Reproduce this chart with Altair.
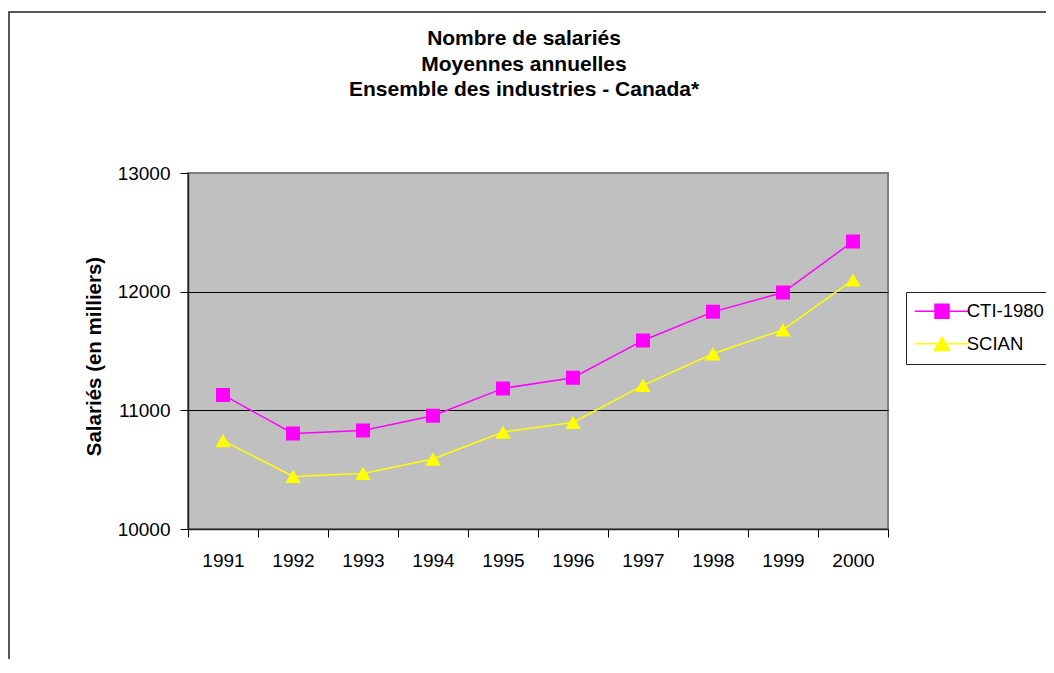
import altair as alt
import pandas as pd

# ---- data ----
years = ["1991", "1992", "1993", "1994", "1995", "1996", "1997", "1998", "1999", "2000"]
cti_1980 = [11130, 10805, 10830, 10955, 11185, 11275, 11589, 11830, 11993, 12423]
scian = [10745, 10443, 10468, 10590, 10817, 10898, 11210, 11477, 11679, 12100]
series_names = ["CTI-1980", "SCIAN"]
series_colors = ["#FF00FF", "#FFFF00"]
y_ticks = [10000, 11000, 12000, 13000]
title_lines = ["Nombre de salariés", "Moyennes annuelles", "Ensemble des industries - Canada*"]
y_title = "Salariés (en milliers)"

df = pd.DataFrame({
    "year": years + years,
    "series": [series_names[0]] * len(years) + [series_names[1]] * len(years),
    "value": cti_1980 + scian,
})

FONT = "Liberation Sans"
W, H = 700, 356

# marker paths: line segment + marker (segment only visible in legend, where stroke is on)
square_path = "M-3.9,0H-1M1,0H3.9M-1,-1H1V1H-1Z"
triangle_path = "M-3.9,0H3.9M0,-0.95L1.1,0.95H-1.1Z"

x_enc = alt.X(
    "year:O",
    bandPosition=0.5,
    scale=alt.Scale(type="band", paddingInner=0, paddingOuter=0),
    axis=alt.Axis(
        title=None, labelAngle=0, tickBand="extent", tickSize=8, tickColor="black",
        labelFontSize=19, labelColor="black", labelPadding=14, labelFont=FONT,
        domainColor="#222222", domainWidth=1.5, grid=False,
    ),
)
y_enc = alt.Y(
    "value:Q",
    scale=alt.Scale(domain=[10000, 13000], nice=False, zero=False),
    axis=alt.Axis(
        values=y_ticks, format="d", title=y_title,
        titleFontWeight="bold", titleFontSize=20.5, titleFont=FONT, titleColor="black",
        titleX=-94, titleY=H / 2 + 5, titleAlign="center", titleBaseline="middle", titleAngle=270,
        labelFontSize=19, labelColor="black", labelPadding=10, labelFont=FONT,
        tickSize=8, tickColor="black", domainColor="#222222", domainWidth=1.5,
        grid=True, gridColor="black", gridWidth=1,
        gridOpacity={"condition": {"test": "datum.value >= 13000 || datum.value <= 10000", "value": 0}, "value": 1},
    ),
)

frame = alt.Chart(alt.Data(values=[{"f": 1}])).mark_rect(
    fill=None, stroke="#222222", strokeWidth=1.5
).encode(
    x=alt.value(-179), x2=alt.value(950), y=alt.value(-161), y2=alt.value(700)
)

lines = alt.Chart(df).mark_line(strokeWidth=1.5).encode(
    x=x_enc, y=y_enc,
    detail="series:N",
    color=alt.condition(
        alt.datum.series == series_names[0],
        alt.value(series_colors[0]),
        alt.value(series_colors[1]),
    ),
)

points = alt.Chart(df).mark_point(filled=True, size=196, opacity=1).encode(
    x=x_enc, y=y_enc,
    color=alt.Color("series:N", scale=alt.Scale(domain=series_names, range=series_colors), title=None),
    stroke=alt.Stroke("series:N", scale=alt.Scale(domain=series_names, range=series_colors), title=None),
    shape=alt.Shape("series:N", scale=alt.Scale(domain=series_names, range=[square_path, triangle_path]), title=None),
    strokeWidth=alt.value(0),
)

chart = alt.layer(frame, lines, points).properties(
    width=W, height=H,
    title=alt.TitleParams(
        title_lines, fontSize=21, fontWeight="bold", font=FONT, color="black",
        anchor="middle", lineHeight=25.5, dx=-14, dy=110, offset=0, baseline="bottom",
    ),
    autosize=alt.AutoSizeParams(type="none"),
    padding={"left": 180, "top": 165, "right": 158, "bottom": 130},
).configure(
    background="white",
).configure_view(
    fill="#C0C0C0", stroke="#808080", strokeWidth=2,
).configure_legend(
    orient="none", legendX=718, legendY=119, padding=10,
    strokeColor="#222222", fillColor="white",
    symbolSize=196, symbolStrokeWidth=1.5, symbolOffset=16.75, symbolOpacity=1,
    labelOffset=15.5, labelFontSize=18.5, labelFont=FONT, labelColor="black",
    rowPadding=11.6,
)

chart.save("out.html", embed_options={"renderer": "svg", "actions": False})
